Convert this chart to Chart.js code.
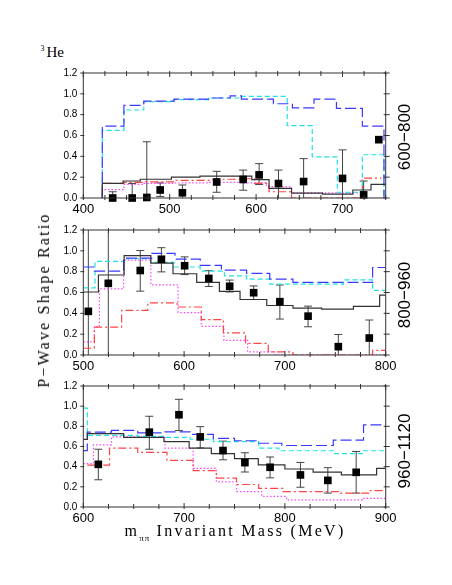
<!DOCTYPE html>
<html><head><meta charset="utf-8">
<script src="https://cdn.jsdelivr.net/npm/chart.js@4.4.1/dist/chart.umd.min.js"></script>
<style>
html,body{margin:0;padding:0;background:#fff;width:452px;height:585px;overflow:hidden;}
body{position:relative;}
canvas{position:absolute;left:0;}
.t{position:absolute;white-space:nowrap;color:#000;line-height:1;}
.rot{transform:translate(-50%,-50%) rotate(-90deg);}
</style></head><body>
<canvas id="c1" width="452" height="159" style="top:61px"></canvas>
<canvas id="c2" width="452" height="159" style="top:218px"></canvas>
<canvas id="c3" width="452" height="155" style="top:374px"></canvas>

<div class="t" style="left:40.5px;top:45px;font:8px 'Liberation Serif';line-height:1">3</div>
<div class="t" style="left:46.5px;top:44.7px;font:15px 'Liberation Serif';line-height:1">He</div>
<div class="t rot" id="r1" style="left:404px;top:137px;font:17px 'Liberation Sans';line-height:1"></div>
<div class="t rot" id="r2" style="left:404px;top:294.5px;font:17px 'Liberation Sans';line-height:1"></div>
<div class="t rot" id="r3" style="left:404px;top:451px;font:17px 'Liberation Sans';line-height:1"></div>
<div class="t rot" style="left:44px;top:300px;font:16px 'Liberation Serif';letter-spacing:2.2px;line-height:1">P−Wave Shape Ratio</div>
<div class="t" style="left:235px;top:523.3px;transform:translateX(-50%);font:16px 'Liberation Serif';letter-spacing:2.3px;line-height:1">m<span style="font-size:9px;position:relative;top:5px;letter-spacing:1px">ππ</span> Invariant Mass (MeV)</div>

<script>
// ---------- tick labels / categories ----------
const yTicks = [0, 0.2, 0.4, 0.6, 0.8, 1.0, 1.2];
const xTicks1 = [400, 500, 600, 700];
const xTicks2 = [500, 600, 700, 800];
const xTicks3 = [600, 700, 800, 900];
const panelLabels = ['600−800', '800−960', '960−1120'];

// ---------- panel 1 (600-800) ----------
const p1X  = [434, 456.6, 473.5, 489, 514.7, 554.4, 585, 603.5, 625.9, 655, 700, 724.5, 742];
const p1Y  = [0.0, 0.0, 0.005, 0.077, 0.05, 0.154, 0.178, 0.222, 0.139, 0.158, 0.188, 0.03, 0.56];
const p1Hi = [0.06, 0.139, 0.54, 0.145, 0.125, 0.256, 0.268, 0.33, 0.268, 0.378, 0.462, 0.163, null];
const p1Lo = [0, 0, 0, 0.015, 0, 0.055, 0.075, 0.13, 0, 0, 0, 0, null];
const p1BlueE  = [422, 447, 470, 505, 545, 570, 583, 620, 642, 667, 693, 723, 748];
const p1BlueL  = [0.69, 0.89, 0.93, 0.95, 0.96, 0.98, 0.95, 0.905, 0.865, 0.95, 0.86, 0.69];
const p1CyanE  = [422, 447, 470, 505, 545, 583, 636, 665, 694, 723, 748];
const p1CyanL  = [0.65, 0.845, 0.925, 0.945, 0.96, 0.975, 0.695, 0.395, 0.055, 0.415];
const p1BlackE = [422, 446, 466, 502, 535, 595, 615, 641, 677, 712, 733, 750];
const p1BlackL = [0.14, 0.163, 0.18, 0.2, 0.21, 0.176, 0.093, 0.046, 0.037, 0.077, 0.13];
const p1RedE   = [422, 447, 470, 504, 550, 583, 598, 615, 641, 723, 745];
const p1RedL   = [0.14, 0.15, 0.155, 0.17, 0.18, 0.185, 0.14, 0.06, 0, 0.19];
const p1MagE   = [422, 447, 470, 505, 545, 583, 612, 641, 723, 748];
const p1MagL   = [0.08, 0.13, 0.14, 0.145, 0.15, 0.145, 0.11, 0.05, 0.0];

// ---------- panel 2 (800-960) ----------
const p2X  = [505, 524.8, 556.5, 577.5, 600.5, 624.5, 645.2, 669, 695, 723, 753, 783.7];
const p2Y  = [0.419, 0.688, 0.811, 0.919, 0.857, 0.735, 0.66, 0.598, 0.512, 0.373, 0.08, 0.163];
const p2Hi = [1.2, 1.2, 1.003, 1.03, 0.942, 0.81, 0.719, 0.663, 0.672, 0.469, 0.197, 0.336];
const p2Lo = [0, 0, 0.613, 0.798, 0.772, 0.658, 0.605, 0.533, 0.345, 0.271, 0, 0];
const p2BlueE  = [500, 511, 540, 568, 591, 616, 637, 662, 685, 708, 787, 800];
const p2BlueL  = [0.845, 0.805, 0.93, 0.975, 0.92, 0.861, 0.815, 0.783, 0.728, 0.697, 0.84];
const p2CyanE  = [500, 511.6, 540, 567, 590, 616, 640, 662, 685, 758, 787, 800];
const p2CyanL  = [0.645, 0.898, 0.925, 0.89, 0.845, 0.806, 0.76, 0.728, 0.681, 0.722, 0.62];
const p2BlackE = [500, 515, 540.5, 567, 589, 612.5, 635, 655.5, 682, 708, 736.5, 768, 794, 800];
const p2BlackL = [0.605, 0.768, 0.954, 0.882, 0.78, 0.697, 0.611, 0.533, 0.475, 0.45, 0.44, 0.466, 0.574];
const p2RedE   = [500, 511, 538, 564, 593, 617, 639, 661, 683.5, 708, 787, 800];
const p2RedL   = [0.065, 0.268, 0.428, 0.5, 0.461, 0.34, 0.212, 0.111, 0.03, 0, 0.045];
const p2MagE   = [500, 511, 516, 540, 567, 594, 617, 639.5, 663, 690, 800];
const p2MagL   = [0.126, 0.27, 0.635, 0.91, 0.674, 0.407, 0.275, 0.14, 0.03, 0];

// ---------- panel 3 (960-1120) ----------
const p3X  = [614.9, 665.5, 694.9, 716, 738.6, 760.3, 785.3, 815.4, 842.6, 870.7];
const p3Y  = [0.423, 0.742, 0.915, 0.695, 0.56, 0.44, 0.394, 0.318, 0.264, 0.344];
const p3Hi = [0.573, 0.9, 1.068, 0.797, 0.653, 0.538, 0.496, 0.442, 0.39, 0.55];
const p3Lo = [0.27, 0.573, 0.758, 0.586, 0.468, 0.347, 0.289, 0.196, 0.138, 0.138];
const p3BlueE  = [600, 604, 628, 654, 681, 706, 729, 750, 774, 797, 848, 878, 900];
const p3BlueL  = [0.56, 0.743, 0.76, 0.735, 0.745, 0.72, 0.68, 0.657, 0.632, 0.61, 0.664, 0.814];
const p3CyanE  = [600, 604, 654, 681, 706, 729, 774, 794, 848, 878, 900];
const p3CyanL  = [0.98, 0.71, 0.70, 0.69, 0.672, 0.648, 0.584, 0.558, 0.53, 0.558];
const p3BlackE = [600, 604, 640, 680, 705, 727, 750, 773.6, 800, 828, 856, 891, 900];
const p3BlackL = [0.67, 0.727, 0.69, 0.648, 0.584, 0.53, 0.479, 0.418, 0.377, 0.345, 0.319, 0.383];
const p3RedE   = [604, 626, 654, 683, 709, 732, 752, 774, 798, 855, 884, 900];
const p3RedL   = [0.415, 0.584, 0.542, 0.463, 0.36, 0.287, 0.223, 0.185, 0.153, 0.137, 0.163];
const p3MagE   = [600, 610, 628, 681, 709, 732, 752, 777, 801.7, 877, 900];
const p3MagL   = [0.43, 0.616, 0.695, 0.584, 0.383, 0.25, 0.153, 0.105, 0.07, 0.085];

// ---------- styles ----------
const STY = {
  blue:  {color: '#3a3aff', dash: [11, 4]},
  cyan:  {color: '#22e2e2', dash: [5, 3]},
  black: {color: '#333333', dash: []},
  red:   {color: '#ff4444', dash: [8, 3, 2, 3]},
  mag:   {color: '#ff44ff', dash: [1.5, 2]}
};

function steps(edges, levels, closeStart, closeEnd) {
  const pts = [];
  if (closeStart) pts.push({x: edges[0], y: 0});
  for (let i = 0; i < levels.length; i++) pts.push({x: edges[i], y: levels[i]});
  pts.push({x: edges[edges.length - 1], y: levels[levels.length - 1]});
  if (closeEnd) pts.push({x: edges[edges.length - 1], y: 0});
  return pts;
}
function stepDs(pts, s) {
  return {type: 'line', data: pts, stepped: true, borderColor: s.color, borderDash: s.dash,
    borderWidth: 1.2, pointRadius: 0, fill: false, tension: 0};
}

const deco = {
  id: 'deco',
  beforeDatasetsDraw(chart) {
    const o = chart.options.plugins.deco;
    const xs = chart.scales.x, ys = chart.scales.y, ctx = chart.ctx;
    ctx.save();
    ctx.strokeStyle = '#444';
    ctx.lineWidth = 1;
    o.ex.forEach((xv, i) => {
      if (o.hi[i] == null) return;
      const px = xs.getPixelForValue(xv);
      const t = ys.getPixelForValue(o.hi[i]);
      const b = ys.getPixelForValue(o.lo[i]);
      ctx.beginPath();
      ctx.moveTo(px, t); ctx.lineTo(px, b);
      if (o.hi[i] < 1.2) { ctx.moveTo(px - 4, t); ctx.lineTo(px + 4, t); }
      if (o.lo[i] > 0) { ctx.moveTo(px - 4, b); ctx.lineTo(px + 4, b); }
      ctx.stroke();
    });
    ctx.restore();
  },
  afterDraw(chart) {
    const a = chart.chartArea, ctx = chart.ctx;
    const xs = chart.scales.x, ys = chart.scales.y;
    ctx.save();
    ctx.strokeStyle = '#333';
    ctx.lineWidth = 1;
    ctx.strokeRect(a.left, a.top, a.right - a.left, a.bottom - a.top);
    ctx.beginPath();
    for (let v = xs.min; v <= xs.max + 0.01; v += 25) {
      const px = xs.getPixelForValue(v);
      const major = Math.abs(v % 100) < 0.01;
      const inn = major ? 4 : 3, out = 2;
      ctx.moveTo(px, a.top - out); ctx.lineTo(px, a.top + inn);
      ctx.moveTo(px, a.bottom + out); ctx.lineTo(px, a.bottom - inn);
    }
    yTicks.forEach(v => {
      const py = ys.getPixelForValue(v);
      ctx.moveTo(a.left - 3, py); ctx.lineTo(a.left + 1, py);
      ctx.moveTo(a.right - 2, py); ctx.lineTo(a.right + 4, py);
    });
    ctx.stroke();
    ctx.restore();
  }
};

function makePanel(id, xr, xt, px, py, hi, lo, series, closeEnds) {
  const [bE, bL, cE, cL, kE, kL, rE, rL, mE, mL] = series;
  const datasets = [
    {type: 'line', data: px.map((x, i) => ({x, y: py[i]})), showLine: false,
     pointStyle: 'rect', pointRadius: 5.4, pointHoverRadius: 5.4,
     pointBackgroundColor: '#000', pointBorderWidth: 0, borderWidth: 0, clip: false},
    stepDs(steps(kE, kL, closeEnds, false), STY.black),
    stepDs(steps(bE, bL, closeEnds, closeEnds), STY.blue),
    stepDs(steps(cE, cL, closeEnds, closeEnds), STY.cyan),
    stepDs(steps(rE, rL, closeEnds, false), STY.red),
    stepDs(steps(mE, mL, closeEnds, false), STY.mag)
  ];
  return new Chart(document.getElementById(id), {
    type: 'line',
    data: {datasets},
    plugins: [deco],
    options: {
      responsive: false, animation: false, devicePixelRatio: 1,
      layout: {padding: {left: 43.3, right: 66.3, top: 8, bottom: 0}},
      plugins: {legend: {display: false}, tooltip: {enabled: false},
        deco: {ex: px, hi, lo}},
      scales: {
        x: {type: 'linear', min: xr[0], max: xr[1],
          grid: {display: false, drawTicks: false}, border: {display: false},
          afterBuildTicks: s => { s.ticks = xt.map(v => ({value: v})); },
          afterFit: s => { s.height = 22; },
          ticks: {autoSkip: false, maxRotation: 0, padding: 4, color: '#000',
            font: {family: 'Liberation Sans', size: 13}, callback: v => String(v)}},
        y: {type: 'linear', min: 0, max: 1.2,
          grid: {display: false, drawTicks: false}, border: {display: false},
          afterBuildTicks: s => { s.ticks = yTicks.map(v => ({value: v})); },
          afterFit: s => { s.width = 40; },
          ticks: {autoSkip: false, padding: 6, color: '#000',
            font: {family: 'Liberation Sans', size: 10}, callback: v => Number(v).toFixed(1)}}
      }
    }
  });
}

makePanel('c1', [400, 750], xTicks1, p1X, p1Y, p1Hi, p1Lo,
  [p1BlueE, p1BlueL, p1CyanE, p1CyanL, p1BlackE, p1BlackL, p1RedE, p1RedL, p1MagE, p1MagL], true);
makePanel('c2', [500, 800], xTicks2, p2X, p2Y, p2Hi, p2Lo,
  [p2BlueE, p2BlueL, p2CyanE, p2CyanL, p2BlackE, p2BlackL, p2RedE, p2RedL, p2MagE, p2MagL], false);
makePanel('c3', [600, 900], xTicks3, p3X, p3Y, p3Hi, p3Lo,
  [p3BlueE, p3BlueL, p3CyanE, p3CyanL, p3BlackE, p3BlackL, p3RedE, p3RedL, p3MagE, p3MagL], false);

document.getElementById('r1').textContent = panelLabels[0];
document.getElementById('r2').textContent = panelLabels[1];
document.getElementById('r3').textContent = panelLabels[2];
</script>
</body></html>
